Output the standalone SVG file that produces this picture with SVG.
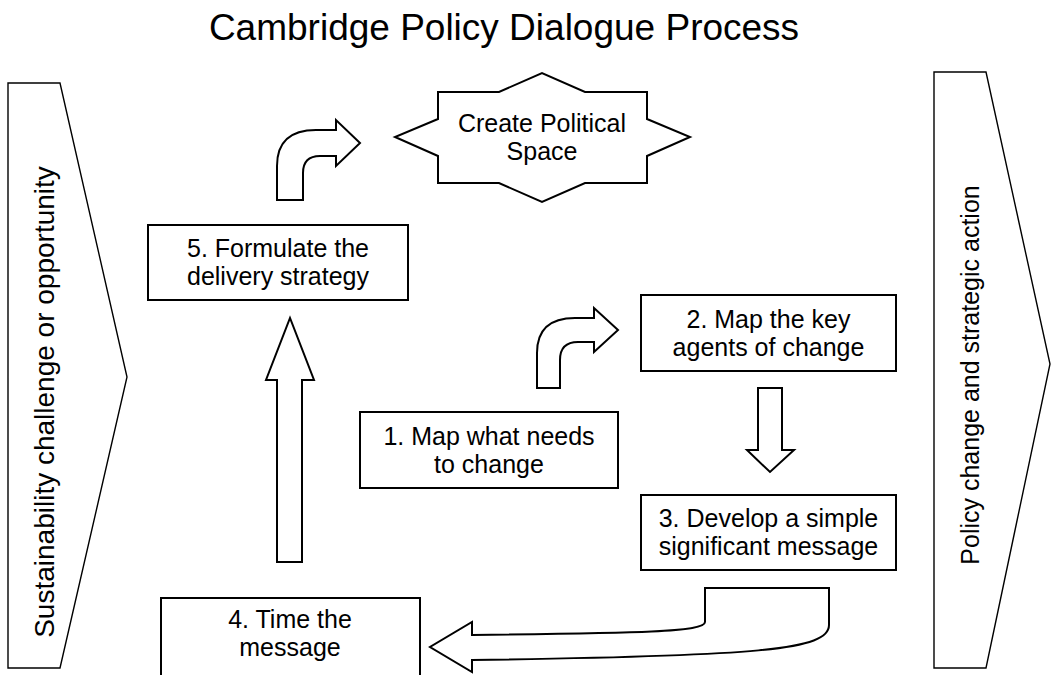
<svg xmlns="http://www.w3.org/2000/svg" width="1055" height="675" viewBox="0 0 1055 675">
  <style>
    .shape { fill: #ffffff; stroke: #000000; stroke-width: 2; stroke-linejoin: miter; }
    .band { fill: #ffffff; stroke: #000000; stroke-width: 1.4; }
    .arrow { fill: #ffffff; stroke: #000000; stroke-width: 2; stroke-linejoin: miter; }
    .label { font-family: "Liberation Sans", Arial, sans-serif; font-size: 25px; fill: #000000; text-anchor: middle; }
    .side { font-family: "Liberation Sans", Arial, sans-serif; fill: #000000; text-anchor: middle; }
    .title { font-family: "Liberation Sans", Arial, sans-serif; font-size: 37px; fill: #000000; text-anchor: middle; }
  </style>
  <rect x="0" y="0" width="1055" height="675" fill="#ffffff"/>

  <text class="title" x="504" y="40">Cambridge Policy Dialogue Process</text>

  <!-- side bands -->
  <g id="challenge">
    <polygon class="band" points="8,83 60,83 127,377 60,668 8,668"/>
    <text class="side" font-size="28" transform="translate(54,402) rotate(-90)">Sustainability challenge or opportunity</text>
  </g>
  <g id="outcome">
    <polygon class="band" points="934,72 986,72 1050,364 986,668 934,668"/>
    <text class="side" font-size="25" transform="translate(979,375) rotate(-90)">Policy change and strategic action</text>
  </g>

  <!-- steps -->
  <g id="political-space">
    <polygon class="shape" points="438,92 499,92 542,73 585,92 647,92 647,119 690,137 647,156 647,183 585,183 542,202 499,183 438,183 438,156 395,137 438,119"/>
    <text class="label" x="542" y="132">Create Political</text>
    <text class="label" x="542" y="160">Space</text>
  </g>
  <g id="step5">
    <rect class="shape" x="148" y="225" width="260" height="75"/>
    <text class="label" x="278" y="257">5. Formulate the</text>
    <text class="label" x="278" y="285">delivery strategy</text>
  </g>
  <g id="step1">
    <rect class="shape" x="360" y="412" width="258" height="76"/>
    <text class="label" x="489" y="445">1. Map what needs</text>
    <text class="label" x="489" y="473">to change</text>
  </g>
  <g id="step2">
    <rect class="shape" x="641" y="295" width="255" height="76"/>
    <text class="label" x="768.5" y="328">2. Map the key</text>
    <text class="label" x="768.5" y="356">agents of change</text>
  </g>
  <g id="step3">
    <rect class="shape" x="641" y="495" width="255" height="75"/>
    <text class="label" x="768.5" y="527">3. Develop a simple</text>
    <text class="label" x="768.5" y="555">significant message</text>
  </g>
  <g id="step4">
    <rect class="shape" x="161" y="598" width="259" height="90"/>
    <text class="label" x="290" y="628">4. Time the</text>
    <text class="label" x="290" y="656">message</text>
  </g>

  <!-- connectors: block arrows -->
  <g id="connectors">
    <path class="arrow" d="M277,200 L277,166 Q277,130 316,130 L336,130 L336,120 L360,143 L336,166 L336,156 L320,156 Q303,156 303,173 L303,200 Z"/>
    <path class="arrow" d="M537,388 L537,353 Q537,318 575,318 L594,318 L594,308 L618,330 L594,352 L594,342 L578,342 Q560,342 560,360 L560,388 Z"/>
    <path class="arrow" d="M758,388 L782,388 L782,450 L794,450 L770,472 L747,450 L758,450 Z"/>
    <path class="arrow" d="M705,588 L829,588 L829,625 C829,650 760,656 472,660 L472,672 L430,647 L472,622 L472,635 C640,633 705,632 705,622 Z"/>
    <path class="arrow" d="M277,562 L277,380 L266,380 L290,318 L314,380 L302,380 L302,562 Z"/>
  </g>
</svg>
